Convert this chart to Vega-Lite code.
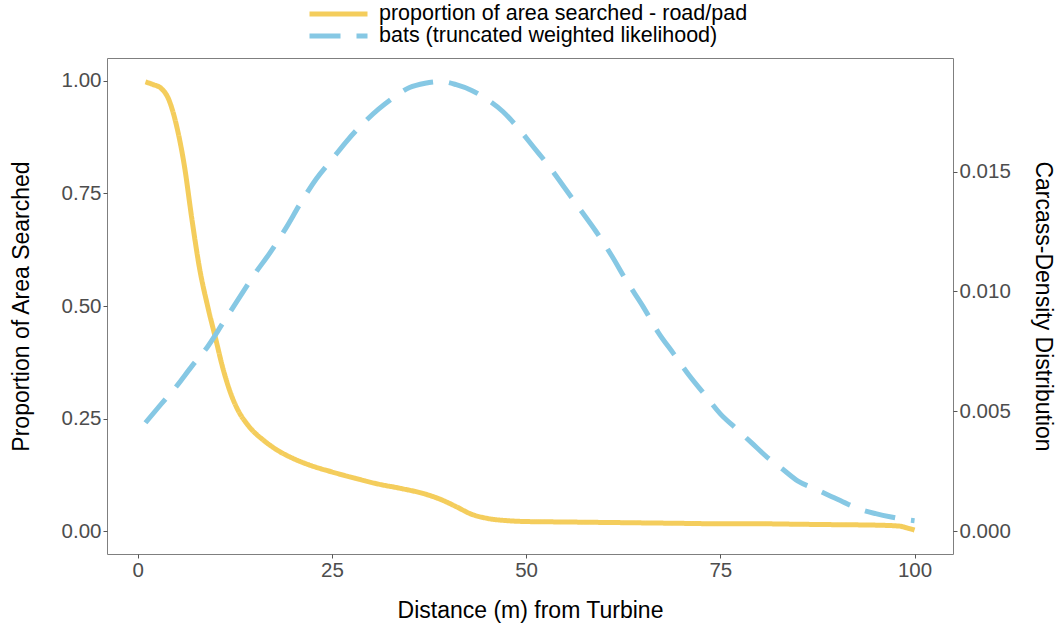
{
  "$schema": "https://vega.github.io/schema/vega-lite/v6.json",
  "autosize": {"type": "none"},
  "padding": {"left": 107, "top": 58, "right": 107, "bottom": 74},
  "width": 846,
  "height": 496,
  "background": "white",
  "config": {
    "font": "Liberation Sans",
    "view": {"stroke": "#7f7f7f", "strokeWidth": 1},
    "axis": {
      "grid": false,
      "domain": false,
      "labelFont": "Liberation Sans",
      "titleFont": "Liberation Sans",
      "labelFontSize": 20.5,
      "titleFontSize": 23,
      "labelColor": "#4d4d4d",
      "titleColor": "#000000",
      "titleFontWeight": "normal",
      "tickColor": "#555555",
      "tickSize": 4,
      "labelPadding": 2
    },
    "legend": {
      "labelFont": "Liberation Sans",
      "labelFontSize": 21.5,
      "labelColor": "#000000",
      "labelLimit": 0
    }
  },
  "datasets": {
    "area": [
      {"distance": 1, "proportion": 0.997, "series": "proportion of area searched - road/pad"},
      {"distance": 2, "proportion": 0.991, "series": "proportion of area searched - road/pad"},
      {"distance": 3, "proportion": 0.983, "series": "proportion of area searched - road/pad"},
      {"distance": 4, "proportion": 0.958, "series": "proportion of area searched - road/pad"},
      {"distance": 5, "proportion": 0.9, "series": "proportion of area searched - road/pad"},
      {"distance": 6, "proportion": 0.812, "series": "proportion of area searched - road/pad"},
      {"distance": 7, "proportion": 0.69, "series": "proportion of area searched - road/pad"},
      {"distance": 8, "proportion": 0.58, "series": "proportion of area searched - road/pad"},
      {"distance": 9, "proportion": 0.5, "series": "proportion of area searched - road/pad"},
      {"distance": 10, "proportion": 0.43, "series": "proportion of area searched - road/pad"},
      {"distance": 11, "proportion": 0.36, "series": "proportion of area searched - road/pad"},
      {"distance": 12, "proportion": 0.305, "series": "proportion of area searched - road/pad"},
      {"distance": 13, "proportion": 0.266, "series": "proportion of area searched - road/pad"},
      {"distance": 14, "proportion": 0.24, "series": "proportion of area searched - road/pad"},
      {"distance": 15, "proportion": 0.22, "series": "proportion of area searched - road/pad"},
      {"distance": 16, "proportion": 0.205, "series": "proportion of area searched - road/pad"},
      {"distance": 18, "proportion": 0.18, "series": "proportion of area searched - road/pad"},
      {"distance": 20, "proportion": 0.162, "series": "proportion of area searched - road/pad"},
      {"distance": 22, "proportion": 0.148, "series": "proportion of area searched - road/pad"},
      {"distance": 25, "proportion": 0.132, "series": "proportion of area searched - road/pad"},
      {"distance": 28, "proportion": 0.118, "series": "proportion of area searched - road/pad"},
      {"distance": 31, "proportion": 0.105, "series": "proportion of area searched - road/pad"},
      {"distance": 34, "proportion": 0.095, "series": "proportion of area searched - road/pad"},
      {"distance": 37, "proportion": 0.083, "series": "proportion of area searched - road/pad"},
      {"distance": 39, "proportion": 0.071, "series": "proportion of area searched - road/pad"},
      {"distance": 41, "proportion": 0.055, "series": "proportion of area searched - road/pad"},
      {"distance": 43, "proportion": 0.038, "series": "proportion of area searched - road/pad"},
      {"distance": 45, "proportion": 0.029, "series": "proportion of area searched - road/pad"},
      {"distance": 47.5, "proportion": 0.024, "series": "proportion of area searched - road/pad"},
      {"distance": 50, "proportion": 0.022, "series": "proportion of area searched - road/pad"},
      {"distance": 55, "proportion": 0.021, "series": "proportion of area searched - road/pad"},
      {"distance": 60, "proportion": 0.02, "series": "proportion of area searched - road/pad"},
      {"distance": 65, "proportion": 0.019, "series": "proportion of area searched - road/pad"},
      {"distance": 70, "proportion": 0.018, "series": "proportion of area searched - road/pad"},
      {"distance": 75, "proportion": 0.017, "series": "proportion of area searched - road/pad"},
      {"distance": 80, "proportion": 0.017, "series": "proportion of area searched - road/pad"},
      {"distance": 85, "proportion": 0.016, "series": "proportion of area searched - road/pad"},
      {"distance": 90, "proportion": 0.015, "series": "proportion of area searched - road/pad"},
      {"distance": 95, "proportion": 0.014, "series": "proportion of area searched - road/pad"},
      {"distance": 98, "proportion": 0.012, "series": "proportion of area searched - road/pad"},
      {"distance": 99, "proportion": 0.008, "series": "proportion of area searched - road/pad"},
      {"distance": 100, "proportion": 0.003, "series": "proportion of area searched - road/pad"}
    ],
    "bats": [
      {"distance": 1, "density": 0.00453, "series": "bats (truncated weighted likelihood)"},
      {"distance": 3, "density": 0.0053, "series": "bats (truncated weighted likelihood)"},
      {"distance": 5, "density": 0.00605, "series": "bats (truncated weighted likelihood)"},
      {"distance": 7, "density": 0.0069, "series": "bats (truncated weighted likelihood)"},
      {"distance": 9, "density": 0.0077, "series": "bats (truncated weighted likelihood)"},
      {"distance": 11, "density": 0.0087, "series": "bats (truncated weighted likelihood)"},
      {"distance": 13, "density": 0.0097, "series": "bats (truncated weighted likelihood)"},
      {"distance": 15, "density": 0.0107, "series": "bats (truncated weighted likelihood)"},
      {"distance": 17, "density": 0.0116, "series": "bats (truncated weighted likelihood)"},
      {"distance": 19, "density": 0.0126, "series": "bats (truncated weighted likelihood)"},
      {"distance": 21, "density": 0.0137, "series": "bats (truncated weighted likelihood)"},
      {"distance": 23, "density": 0.0147, "series": "bats (truncated weighted likelihood)"},
      {"distance": 25, "density": 0.0155, "series": "bats (truncated weighted likelihood)"},
      {"distance": 27, "density": 0.0163, "series": "bats (truncated weighted likelihood)"},
      {"distance": 29, "density": 0.017, "series": "bats (truncated weighted likelihood)"},
      {"distance": 31, "density": 0.0176, "series": "bats (truncated weighted likelihood)"},
      {"distance": 33, "density": 0.0181, "series": "bats (truncated weighted likelihood)"},
      {"distance": 35, "density": 0.0185, "series": "bats (truncated weighted likelihood)"},
      {"distance": 37, "density": 0.01868, "series": "bats (truncated weighted likelihood)"},
      {"distance": 39, "density": 0.01875, "series": "bats (truncated weighted likelihood)"},
      {"distance": 41, "density": 0.01862, "series": "bats (truncated weighted likelihood)"},
      {"distance": 43, "density": 0.01838, "series": "bats (truncated weighted likelihood)"},
      {"distance": 45, "density": 0.018, "series": "bats (truncated weighted likelihood)"},
      {"distance": 47, "density": 0.0175, "series": "bats (truncated weighted likelihood)"},
      {"distance": 49, "density": 0.0168, "series": "bats (truncated weighted likelihood)"},
      {"distance": 51, "density": 0.016, "series": "bats (truncated weighted likelihood)"},
      {"distance": 53, "density": 0.0152, "series": "bats (truncated weighted likelihood)"},
      {"distance": 55, "density": 0.0143, "series": "bats (truncated weighted likelihood)"},
      {"distance": 57, "density": 0.0134, "series": "bats (truncated weighted likelihood)"},
      {"distance": 59, "density": 0.0125, "series": "bats (truncated weighted likelihood)"},
      {"distance": 61, "density": 0.0115, "series": "bats (truncated weighted likelihood)"},
      {"distance": 63, "density": 0.0104, "series": "bats (truncated weighted likelihood)"},
      {"distance": 65, "density": 0.0094, "series": "bats (truncated weighted likelihood)"},
      {"distance": 67, "density": 0.0083, "series": "bats (truncated weighted likelihood)"},
      {"distance": 69, "density": 0.0074, "series": "bats (truncated weighted likelihood)"},
      {"distance": 71, "density": 0.0065, "series": "bats (truncated weighted likelihood)"},
      {"distance": 73, "density": 0.0057, "series": "bats (truncated weighted likelihood)"},
      {"distance": 75, "density": 0.0049, "series": "bats (truncated weighted likelihood)"},
      {"distance": 77, "density": 0.0043, "series": "bats (truncated weighted likelihood)"},
      {"distance": 79, "density": 0.0037, "series": "bats (truncated weighted likelihood)"},
      {"distance": 81, "density": 0.0031, "series": "bats (truncated weighted likelihood)"},
      {"distance": 83, "density": 0.0026, "series": "bats (truncated weighted likelihood)"},
      {"distance": 85, "density": 0.0021, "series": "bats (truncated weighted likelihood)"},
      {"distance": 87, "density": 0.0018, "series": "bats (truncated weighted likelihood)"},
      {"distance": 89, "density": 0.0015, "series": "bats (truncated weighted likelihood)"},
      {"distance": 91, "density": 0.0012, "series": "bats (truncated weighted likelihood)"},
      {"distance": 93, "density": 0.00092, "series": "bats (truncated weighted likelihood)"},
      {"distance": 95, "density": 0.00074, "series": "bats (truncated weighted likelihood)"},
      {"distance": 97, "density": 0.0006, "series": "bats (truncated weighted likelihood)"},
      {"distance": 99, "density": 0.00049, "series": "bats (truncated weighted likelihood)"},
      {"distance": 100, "density": 0.00045, "series": "bats (truncated weighted likelihood)"}
    ]
  },
  "layer": [
    {
      "data": {"name": "area"},
      "mark": {"type": "line", "strokeWidth": 5, "interpolate": "monotone", "strokeCap": "butt"},
      "encoding": {
        "x": {
          "field": "distance", "type": "quantitative",
          "scale": {"domain": [-3.95, 104.95], "nice": false, "zero": false},
          "axis": {"values": [0, 25, 50, 75, 100], "title": "Distance (m) from Turbine", "titlePadding": 19}
        },
        "y": {
          "field": "proportion", "type": "quantitative",
          "scale": {"domain": [-0.05, 1.05], "nice": false, "zero": false},
          "axis": {"values": [0, 0.25, 0.5, 0.75, 1], "format": ".2f", "title": "Proportion of Area Searched", "titlePadding": 28}
        },
        "color": {
          "field": "series", "type": "nominal",
          "scale": {
            "domain": ["proportion of area searched - road/pad", "bats (truncated weighted likelihood)"],
            "range": ["#F4CD5C", "#86C8E4"]
          },
          "legend": {
            "title": null, "orient": "none", "legendX": 200, "legendY": -55,
            "symbolType": "stroke", "symbolSize": 3364, "symbolStrokeWidth": 5,
            "labelOffset": 9, "rowPadding": 0, "clipHeight": 22
          }
        },
        "strokeDash": {
          "field": "series", "type": "nominal",
          "scale": {
            "domain": ["proportion of area searched - road/pad", "bats (truncated weighted likelihood)"],
            "range": [[1, 0], [31, 16]]
          },
          "legend": {
            "title": null, "orient": "none", "legendX": 200, "legendY": -55,
            "symbolType": "stroke", "symbolSize": 3364, "symbolStrokeWidth": 5,
            "labelOffset": 9, "rowPadding": 0, "clipHeight": 22
          }
        }
      }
    },
    {
      "data": {"name": "bats"},
      "mark": {"type": "line", "strokeWidth": 5, "interpolate": "monotone", "strokeCap": "butt"},
      "encoding": {
        "x": {"field": "distance", "type": "quantitative"},
        "y": {
          "field": "density", "type": "quantitative",
          "scale": {"domain": [-0.00094, 0.01973], "nice": false, "zero": false},
          "axis": {"orient": "right", "values": [0, 0.005, 0.01, 0.015], "format": ".3f", "title": "Carcass-Density Distribution", "titlePadding": 20}
        },
        "color": {"field": "series", "type": "nominal"},
        "strokeDash": {"field": "series", "type": "nominal"}
      }
    }
  ],
  "resolve": {"scale": {"y": "independent"}}
}
